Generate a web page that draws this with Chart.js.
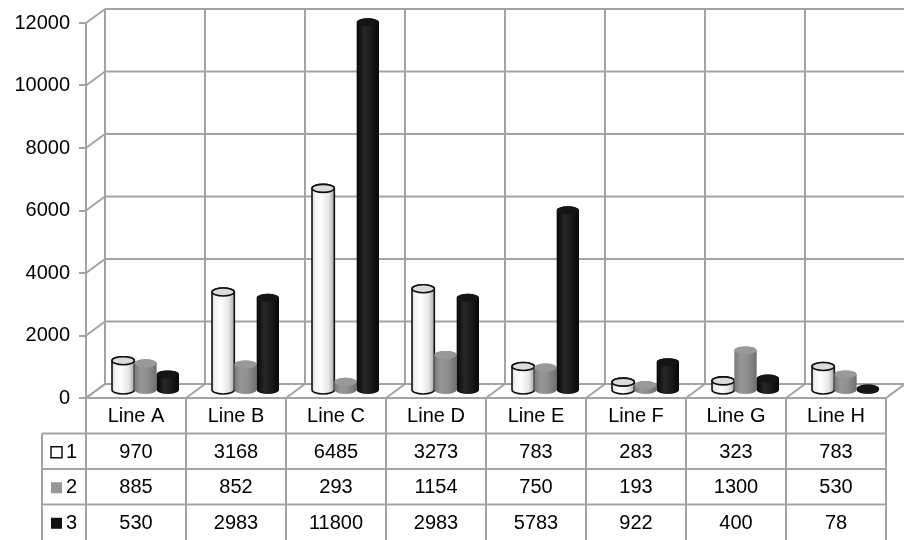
<!DOCTYPE html>
<html>
<head>
<meta charset="utf-8">
<script src="https://cdn.jsdelivr.net/npm/chart.js@4.4.0/dist/chart.umd.min.js"></script>
<style>
  html, body { margin: 0; padding: 0; background: #fff; }
  #wrap { width: 904px; height: 540px; }
</style>
</head>
<body>
<div id="wrap"><canvas id="c" width="904" height="540"></canvas></div>
<script>
// Production by line and shift
const categories = ['Line A', 'Line B', 'Line C', 'Line D', 'Line E', 'Line F', 'Line G', 'Line H'];
const seriesNames = ['1', '2', '3'];
const series1 = [970, 3168, 6485, 3273, 783, 283, 323, 783];
const series2 = [885, 852, 293, 1154, 750, 193, 1300, 530];
const series3 = [530, 2983, 11800, 2983, 5783, 922, 400, 78];
const yTicks = [0, 2000, 4000, 6000, 8000, 10000, 12000];

const FONT = "'Liberation Sans', Arial, sans-serif";
const FONT_SIZE = 20;
const GRID = '#a3a3a3';
const DEPTH_X = 19;      // back wall offset to the right
const DEPTH_Y = 14;      // back wall offset upward
const ROW_H = 35.5;      // data table row height
const LEGEND_LEFT = 42;  // left edge of the table's key column

// cylinder looks per series: body gradient stops, top colour, outline
const looks = [
  { stops: [[0, '#cfcfcf'], [0.12, '#f2f2f2'], [0.4, '#ffffff'], [0.75, '#e6e6e6'], [1, '#a9a9a9']], top: '#dcdcdc', stroke: '#111111', key: '#ffffff' },
  { stops: [[0, '#7a7a7a'], [0.3, '#979797'], [0.6, '#8f8f8f'], [1, '#6e6e6e']], top: '#999999', stroke: null, key: '#969696' },
  { stops: [[0, '#080808'], [0.35, '#262626'], [0.65, '#1a1a1a'], [1, '#060606']], top: '#141414', stroke: null, key: '#111111' }
];

function cylinder(ctx, cx, w, topY, baseY, look) {
  const rx = w / 2, ry = 4;
  const left = cx - rx, right = cx + rx;
  const g = ctx.createLinearGradient(left, 0, right, 0);
  look.stops.forEach(s => g.addColorStop(s[0], s[1]));
  ctx.beginPath();
  ctx.moveTo(left, topY);
  ctx.lineTo(left, baseY);
  ctx.ellipse(cx, baseY, rx, ry, 0, Math.PI, 0, true);
  ctx.lineTo(right, topY);
  ctx.ellipse(cx, topY, rx, ry, 0, 0, Math.PI, true);
  ctx.closePath();
  ctx.fillStyle = g;
  ctx.fill();
  if (look.stroke) { ctx.lineWidth = 1.6; ctx.strokeStyle = look.stroke; ctx.stroke(); }
  ctx.beginPath();
  ctx.ellipse(cx, topY, rx, ry, 0, 0, Math.PI * 2);
  ctx.fillStyle = look.top;
  ctx.fill();
  if (look.stroke) { ctx.lineWidth = 1.6; ctx.strokeStyle = look.stroke; ctx.stroke(); }
}

function line(ctx, x1, y1, x2, y2) {
  ctx.beginPath(); ctx.moveTo(x1, y1); ctx.lineTo(x2, y2); ctx.stroke();
}

const walls = {
  id: 'walls',
  beforeDatasetsDraw(chart) {
    const { ctx, scales: { x, y } } = chart;
    const n = categories.length;
    const step = (x.right - x.left) / n;
    const yTop = y.getPixelForValue(yTicks[yTicks.length - 1]);
    const y0 = y.getPixelForValue(0);
    ctx.save();
    ctx.strokeStyle = GRID; ctx.lineWidth = 2;
    // horizontal gridlines on the back wall plus their run along the side wall
    yTicks.forEach(v => {
      const py = y.getPixelForValue(v);
      line(ctx, x.left, py, x.left + DEPTH_X, py - DEPTH_Y);
      line(ctx, x.left + DEPTH_X, py - DEPTH_Y, x.right + DEPTH_X, py - DEPTH_Y);
    });
    // vertical gridlines on the back wall and the floor dividers
    for (let i = 0; i <= n; i++) {
      const px = x.left + i * step;
      line(ctx, px + DEPTH_X, yTop - DEPTH_Y, px + DEPTH_X, y0 - DEPTH_Y);
      line(ctx, px, y0, px + DEPTH_X, y0 - DEPTH_Y);
    }
    line(ctx, x.left, y0, x.right, y0);
    ctx.restore();
  },
  afterDatasetsDraw(chart) {
    const { ctx } = chart;
    ctx.save();
    chart.data.datasets.forEach((ds, di) => {
      const meta = chart.getDatasetMeta(di);
      meta.data.forEach(bar => {
        const p = bar.getProps(['x', 'y', 'base', 'width'], true);
        cylinder(ctx, p.x + DEPTH_X / 2, p.width, p.y - DEPTH_Y / 2, p.base - DEPTH_Y / 2, looks[di]);
      });
    });
    ctx.restore();
  },
  afterDraw(chart) {
    const { ctx, scales: { x, y } } = chart;
    const n = categories.length;
    const step = (x.right - x.left) / n;
    const top = y.getPixelForValue(0);
    const bottom = chart.height + 2;
    ctx.save();
    ctx.strokeStyle = GRID; ctx.lineWidth = 2;
    const rows = [top, top + ROW_H, top + 2 * ROW_H, top + 3 * ROW_H, top + 4 * ROW_H];
    // row lines
    line(ctx, x.left, rows[0], x.right, rows[0]);
    for (let r = 1; r < 4; r++) line(ctx, LEGEND_LEFT, rows[r], x.right, rows[r]);
    // column lines
    line(ctx, LEGEND_LEFT, rows[1], LEGEND_LEFT, bottom);
    for (let i = 0; i <= n; i++) line(ctx, x.left + i * step, rows[0], x.left + i * step, bottom);

    ctx.fillStyle = '#000';
    ctx.font = FONT_SIZE + 'px ' + FONT;
    ctx.textAlign = 'center'; ctx.textBaseline = 'middle';
    categories.forEach((c, i) => ctx.fillText(c, x.getPixelForValue(i), (rows[0] + rows[1]) / 2 + 1));
    chart.data.datasets.forEach((ds, di) => {
      const cy = (rows[di + 1] + rows[di + 2]) / 2 + 1;
      ds.data.forEach((v, i) => ctx.fillText(String(v), x.getPixelForValue(i), cy));
      // key square and series name
      const look = looks[di];
      ctx.fillStyle = look.key;
      ctx.fillRect(51, cy - 5.5, 11, 11);
      if (di === 0) { ctx.lineWidth = 1.5; ctx.strokeStyle = '#111'; ctx.strokeRect(51, cy - 5.5, 11, 11); }
      ctx.fillStyle = '#000';
      ctx.textAlign = 'left';
      ctx.fillText(ds.label, 66, cy);
      ctx.textAlign = 'center';
    });
    ctx.restore();
  }
};

const seriesData = [series1, series2, series3];
new Chart(document.getElementById('c'), {
  type: 'bar',
  data: {
    labels: categories,
    datasets: seriesData.map((d, i) => ({
      label: seriesNames[i],
      data: d,
      backgroundColor: 'rgba(0,0,0,0)',
      borderWidth: 0,
      categoryPercentage: 0.67,
      barPercentage: 1.0
    }))
  },
  options: {
    responsive: false,
    animation: false,
    devicePixelRatio: 1,
    layout: { padding: { top: 23, bottom: 142, right: 18, left: 0 } },
    plugins: { legend: { display: false }, tooltip: { enabled: false } },
    scales: {
      x: { display: false, offset: true },
      y: {
        min: 0, max: 12000,
        ticks: { stepSize: 2000, color: '#000', font: { size: FONT_SIZE, family: FONT }, padding: 9,
                 callback: v => String(v) },
        grid: { drawOnChartArea: false, drawTicks: true, tickLength: 7, color: GRID, lineWidth: 2 },
        border: { display: true, color: GRID, width: 2 },
        afterFit(s) { s.width = 86; }
      }
    }
  },
  plugins: [walls]
});
</script>
</body>
</html>
